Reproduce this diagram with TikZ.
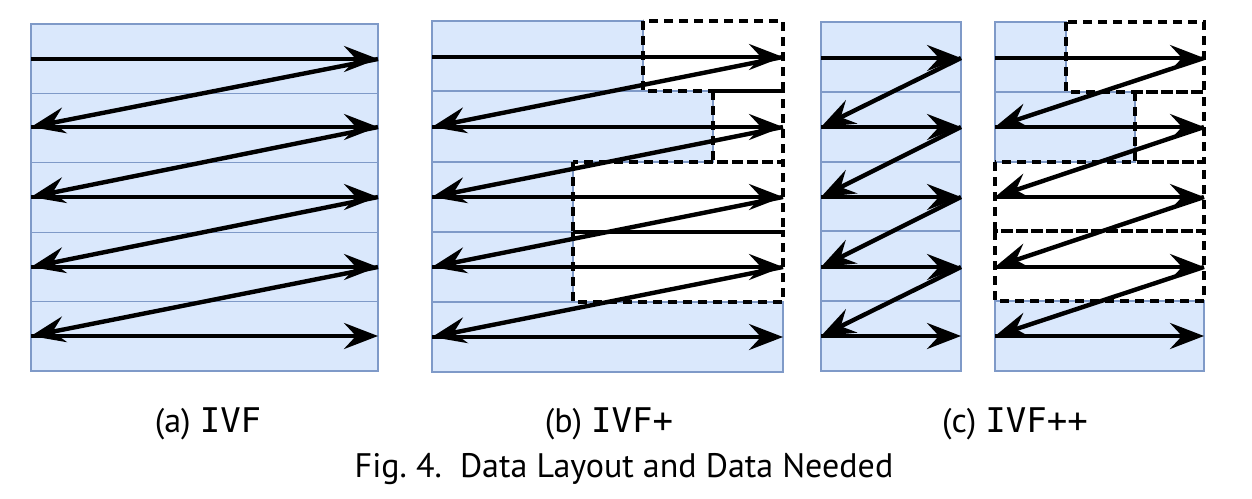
\documentclass[tikz,border=0pt]{standalone}
\usepackage{fontspec}
\setmainfont{PT Sans}
\setmonofont{DejaVu Sans Mono}
\usetikzlibrary{arrows.meta}
\definecolor{blkfill}{HTML}{DAE8FC}
\definecolor{blkline}{HTML}{7F9AC8}
\tikzset{
  blk/.style={draw=blkline, fill=blkfill, line width=1.1pt},
  needbox/.style={draw=black, line width=3.2pt, dash pattern=on 9pt off 6pt},
  arr/.style={line width=4.4pt, -{Stealth[length=34pt,width=26pt,inset=12pt]}},
  sub/.style={font=\fontsize{34}{40}\selectfont, inner sep=0pt},
  figcap/.style={font=\fontsize{34}{40}\selectfont, inner sep=0pt},
}
\begin{document}
\begin{tikzpicture}[x=1pt,y=-1pt]
\useasboundingbox[fill=white] (0,0) rectangle (1252,498);

% ---------- (a) IVF ----------
\foreach \t/\b in {24/93.4,93.4/162.8,162.8/232.2,232.2/301.6,301.6/371}
  \draw[blk] (31,\t) rectangle (378,\b);
\foreach \i/\y in {1/59,2/127,3/197,4/267,5/336}{
  \coordinate (aL\i) at (31,\y);
  \coordinate (aR\i) at (378,\y);
}

% ---------- (b) IVF+ ----------
\draw[blk] (432,21) rectangle (643,91);
\draw[blk] (432,91) rectangle (713,162);
\draw[blk] (432,162) rectangle (573,232);
\draw[blk] (432,232) rectangle (573,302);
\draw[blk] (432,302) rectangle (783,372);
\draw[needbox] (643,21) rectangle (783,91);
\draw[needbox] (713,91) rectangle (783,162);
\draw[needbox] (573,162) rectangle (783,232);
\draw[needbox] (573,232) rectangle (783,302);
\foreach \i/\y in {1/57,2/127,3/197,4/267,5/337}{
  \coordinate (bL\i) at (432,\y);
  \coordinate (bR\i) at (783,\y);
}

% ---------- (c) IVF++ left ----------
\foreach \t/\b in {22/92,92/162,162/231,231/301,301/371}
  \draw[blk] (821,\t) rectangle (961,\b);
\foreach \i/\y in {1/58,2/127,3/197,4/267,5/336}{
  \coordinate (cL\i) at (821,\y);
  \coordinate (cR\i) at (961,\y);
}

% ---------- (c) IVF++ right ----------
\draw[blk] (995,22) rectangle (1066,92);
\draw[blk] (995,92) rectangle (1135,162);
\draw[blk] (995,301) rectangle (1204,371);
\draw[needbox] (1066,22) rectangle (1204,92);
\draw[needbox] (1135,92) rectangle (1204,162);
\draw[needbox] (995,162) rectangle (1204,231);
\draw[needbox] (995,231) rectangle (1204,301);
\foreach \i/\y in {1/58,2/127,3/197,4/267,5/336}{
  \coordinate (dL\i) at (995,\y);
  \coordinate (dR\i) at (1204,\y);
}

% ---------- arrows ----------
\foreach \p in {a,b,c,d}{
  \foreach \i in {1,...,5}
    \draw[arr] (\p L\i) -- (\p R\i);
  \foreach \i/\j in {1/2,2/3,3/4,4/5}
    \draw[arr] (\p R\i) -- (\p L\j);
}

% ---------- captions ----------
\node[sub] (capa) at (208,424) {(a) \texttt{IVF}};
\node[sub] (capb) at (609,424) {(b) \texttt{IVF+}};
\node[sub] (capc) at (1015,424) {(c) \texttt{IVF++}};
\node[figcap] (fig) at (624,469) {Fig.~4.\ \ Data Layout and Data Needed};
\end{tikzpicture}
\end{document}
